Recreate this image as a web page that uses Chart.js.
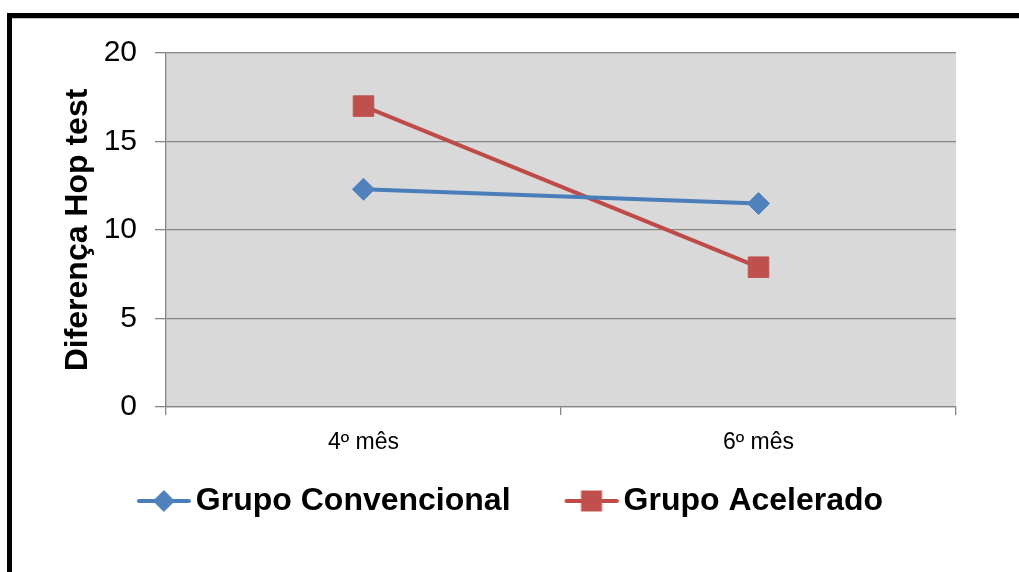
<!DOCTYPE html>
<html>
<head>
<meta charset="utf-8">
<script src="https://cdn.jsdelivr.net/npm/chart.js@4/dist/chart.umd.min.js"></script>
<style>
  html, body { margin: 0; padding: 0; background: #ffffff; }
  #wrap { width: 1019px; height: 572px; }
</style>
</head>
<body>
<div id="wrap"><canvas id="c" width="1019" height="572"></canvas></div>
<script>
// Categories and series
const categories = ['4º mês', '6º mês'];
const convencional = [12.3, 11.5];
const acelerado = [17.0, 7.9];
const seriesNames = ['Grupo Convencional', 'Grupo Acelerado'];
const yTicks = [0, 5, 10, 15, 20];
const yTitle = 'Diferença Hop test';

const BLUE_LINE = '#4a7ebb', BLUE_FILL = '#4f81bd';
const RED_LINE = '#be4b48', RED_FILL = '#c0504d';
const GRID = '#868686';

// Legend icons: a short line segment with the series marker in the middle
function makeIcon(lineColor, fillColor, shape) {
  const W = 109, H = 28, seg = 54;
  const cv = document.createElement('canvas');
  cv.width = W; cv.height = H;
  const g = cv.getContext('2d');
  const x0 = W - seg, cy = H / 2, cx = x0 + seg / 2;
  g.strokeStyle = lineColor;
  g.lineWidth = 4;
  g.lineCap = 'round';
  g.beginPath(); g.moveTo(x0 + 2, cy); g.lineTo(W - 2, cy); g.stroke();
  g.fillStyle = fillColor;
  g.beginPath();
  if (shape === 'diamond') {
    const r = 11;
    g.moveTo(cx - r, cy); g.lineTo(cx, cy - r); g.lineTo(cx + r, cy); g.lineTo(cx, cy + r);
  } else {
    const h = 10.5;
    g.rect(cx - h, cy - h, 2 * h, 2 * h);
  }
  g.closePath(); g.fill();
  return cv;
}
const legendIcons = [makeIcon(BLUE_LINE, BLUE_FILL, 'diamond'), makeIcon(RED_LINE, RED_FILL, 'square')];

// Frame around the chart and the grey plot background
const framePlugin = {
  id: 'frame',
  beforeDraw(chart) {
    const {ctx, chartArea: a} = chart;
    ctx.save();
    ctx.fillStyle = '#ffffff';
    ctx.fillRect(0, 0, chart.width, chart.height);
    ctx.fillStyle = '#000000';
    ctx.fillRect(7, 13, chart.width - 7, 5);
    ctx.fillRect(7, 13, 5, chart.height - 13);
    ctx.fillStyle = '#c4c4c4';
    ctx.fillRect(12, 18, chart.width - 12, 1);
    ctx.fillStyle = '#d9d9d9';
    ctx.fillRect(a.left, a.top, a.right - a.left, a.bottom - a.top);
    ctx.restore();
  }
};

new Chart(document.getElementById('c'), {
  type: 'line',
  data: {
    labels: categories,
    datasets: [
      {
        label: seriesNames[0],
        data: convencional,
        borderColor: BLUE_LINE,
        borderWidth: 4,
        pointStyle: 'rectRot',
        pointRadius: 11,
        pointBackgroundColor: BLUE_FILL,
        pointBorderColor: BLUE_FILL,
        pointBorderWidth: 1,
        tension: 0
      },
      {
        label: seriesNames[1],
        data: acelerado,
        borderColor: RED_LINE,
        borderWidth: 4,
        pointStyle: 'rect',
        pointRadius: 14.5,
        pointBackgroundColor: RED_FILL,
        pointBorderColor: RED_FILL,
        pointBorderWidth: 1,
        tension: 0
      }
    ]
  },
  options: {
    responsive: false,
    animation: false,
    events: [],
    layout: { padding: { left: 20, right: 63, top: 53, bottom: 45 } },
    scales: {
      x: {
        offset: true,
        grid: { display: true, drawOnChartArea: false, drawTicks: true, tickLength: 8, color: GRID, lineWidth: 1.3, offset: true },
        border: { display: true, color: GRID, width: 1.3 },
        ticks: { color: '#000000', padding: 14, font: { family: '"Liberation Sans", Arial, sans-serif', size: 23 } },
        afterFit(scale) { scale.height = 68; }
      },
      y: {
        min: 0,
        max: 20,
        afterBuildTicks(scale) { scale.ticks = yTicks.map(v => ({ value: v })); },
        grid: { color: GRID, lineWidth: 1.3, tickLength: 11, drawTicks: true },
        border: { display: true, color: GRID, width: 1.3 },
        ticks: { color: '#000000', padding: 18, font: { family: '"Liberation Sans", Arial, sans-serif', size: 30 } },
        title: {
          display: true,
          text: yTitle,
          color: '#000000',
          padding: { top: 39, bottom: 0 },
          font: { family: '"Liberation Sans", Arial, sans-serif', size: 32, weight: 'bold' }
        },
        afterFit(scale) { scale.width = 146; }
      }
    },
    plugins: {
      tooltip: { enabled: false },
      legend: {
        position: 'bottom',
        labels: {
          usePointStyle: true,
          pointStyleWidth: 87,
          padding: 10,
          color: '#000000',
          font: { family: '"Liberation Sans", Arial, sans-serif', size: 32, weight: 'bold', lineHeight: 1 },
          generateLabels(chart) {
            const items = Chart.defaults.plugins.legend.labels.generateLabels(chart);
            items.forEach((it, i) => { it.pointStyle = legendIcons[i]; });
            return items;
          }
        }
      }
    }
  },
  plugins: [framePlugin]
});
</script>
</body>
</html>
